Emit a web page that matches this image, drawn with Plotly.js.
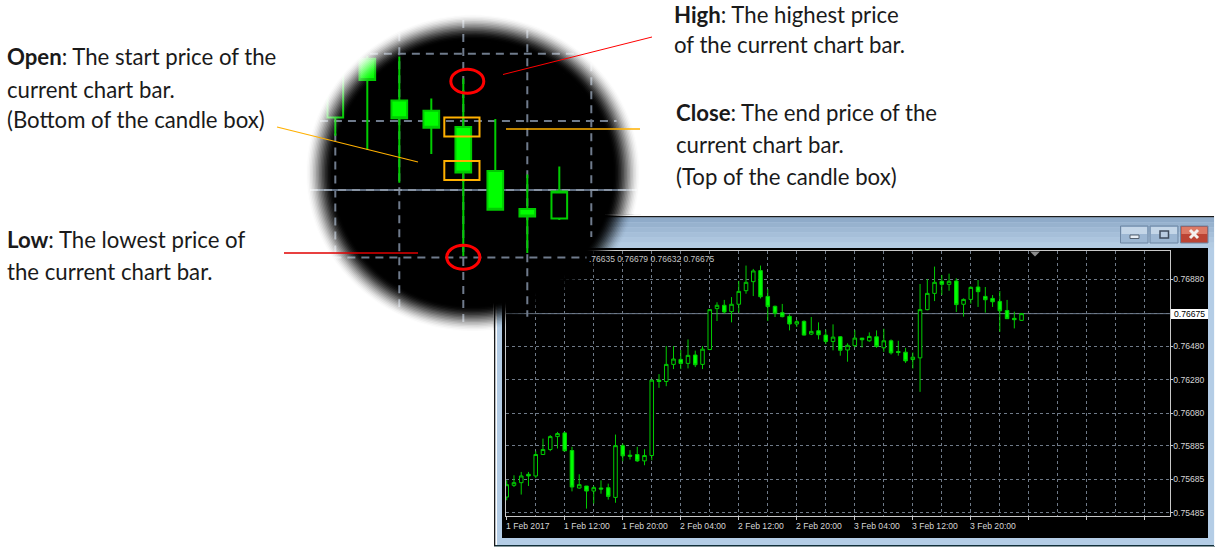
<!DOCTYPE html>
<html><head><meta charset="utf-8">
<script src="https://cdn.plot.ly/plotly-3.0.1.min.js"></script>
<style>html,body{margin:0;padding:0;background:#fff;overflow:hidden}#c{width:1215px;height:547px}</style>
</head><body><div id="c"></div>
<script>
// ---------- main H1 chart values (prices x 1e-5) ----------
const barIndex=[0,1,2,3,4,5,6,7,8,9,10,11,12,13,14,15,16,17,18,19,20,21,22,23,24,25,26,27,28,29,30,31,32,33,34,35,36,37,38,39,40,41,42,43,44,45,46,47,48,49,50,51,52,53,54,55,56,57,58,59,60,61,62,63,64,65,66,67,68,69,70,71];
const opens =[75580,75650,75666,75716,75706,75834,75864,75941,75963,75858,75634,75646,75616,75634,75636,75578,75887,75830,75834,75796,75828,76278,76270,76372,76402,76378,76428,76372,76461,76705,76725,76687,76731,76812,76866,76932,76778,76719,76681,76659,76613,76629,76553,76573,76547,76509,76537,76458,76484,76529,76513,76537,76471,76513,76449,76445,76401,76411,76699,76796,76868,76850,76870,76731,76760,76834,76778,76766,76748,76694,76647,76635];
const highs =[75680,75710,75730,75730,75854,75929,75950,75969,75969,75880,75716,75646,75646,75680,75660,75953,75899,75860,75880,75866,76278,76314,76481,76481,76458,76521,76454,76481,76699,76743,76757,76774,76870,76962,76942,76962,76822,76723,76733,76671,76637,76635,76655,76623,76579,76611,76541,76498,76577,76529,76563,76575,76585,76521,76513,76471,76443,76852,76882,76956,76906,76914,76886,76766,76838,76876,76834,76786,76810,76757,76687,76679];
const lows  =[75561,75640,75595,75646,75694,75832,75854,75870,75854,75614,75630,75511,75541,75600,75565,75546,75794,75804,75790,75770,75800,76232,76242,76344,76344,76348,76356,76344,76457,76631,76675,76623,76681,76794,76780,76766,76631,76655,76653,76575,76595,76545,76547,76521,76493,76456,76424,76388,76473,76473,76507,76471,76447,76431,76424,76381,76348,76208,76695,76750,76786,76812,76685,76657,76735,76715,76681,76715,76567,76643,76587,76632];
const closes=[75654,75666,75706,75706,75834,75864,75941,75959,75856,75640,75654,75616,75636,75628,75584,75887,75826,75824,75796,75828,76278,76270,76372,76404,76378,76426,76370,76463,76699,76725,76685,76731,76808,76862,76930,76776,76717,76677,76657,76613,76627,76547,76569,76549,76509,76535,76456,76486,76529,76519,76539,76479,76513,76441,76443,76393,76415,76699,76796,76862,76850,76868,76729,76760,76832,76806,76758,76746,76692,76645,76639,76675];
const xTickVals=[0,8,16,24,32,40,48,56,64];
const xTickText=["1 Feb 2017","1 Feb 12:00","1 Feb 20:00","2 Feb 04:00","2 Feb 12:00","2 Feb 20:00","3 Feb 04:00","3 Feb 12:00","3 Feb 20:00"];
const yTickVals=[0.7688,0.76675,0.7648,0.7628,0.7608,0.75885,0.75685,0.75485];
const yTickText=["0.76880","","0.76480","0.76280","0.76080","0.75885","0.75685","0.75485"];
const currentPrice=0.76675;
const currentLabel="0.76675";
const ohlcLabel=".76635 0.76679 0.76632 0.76675";
// ---------- magnified view values ----------
const magIndex=[0,1,2,3,4,5,6,7];
const magOpen =[76774,76854,76797,76783,76761,76701,76649,76636];
const magHigh =[76850,76858,76857,76800,76827,76772,76696,76707];
const magLow  =[76749,76730,76685,76724,76585,76648,76589,76634];
const magClose=[76846,76825,76773,76760,76699,76648,76639,76673];
const magVGrid=[0,2,4,6,8];
const magVTop =[76752,76889,76907,76893,76848];
const magVBot =[76579,76507,76489,76502,76611];
const magHGrid=[76861,76769,76675,76583];
const magHLeft=[1.08,-0.48,-0.79,-0.06];
const magHRight=[7.54,8.79,9.42,7.85];
// ---------- call-out texts ----------
const notes=[
 ["<b>Open</b>: The start price of the",8,57],["current chart bar.",8,89],["(Bottom of the candle box)",8,120],
 ["<b>Low</b>: The lowest price of",8,240],["the current chart bar.",8,271],
 ["<b>High</b>: The highest price",675,14],["of the current chart bar.",675,45],
 ["<b>Close</b>: The end price of the",677,113],["current chart bar.",677,144],["(Top of the candle box)",677,176]];

const W=1215,H=547;
const X=p=>p/W, Y=p=>1-p/H;
const px=(x0,y0,x1,y1,fill,extra)=>Object.assign({type:'rect',xref:'paper',yref:'paper',x0:X(x0),x1:X(x1),y0:Y(y0),y1:Y(y1),fillcolor:fill,line:{width:0},layer:'below'},extra||{});
const seg=(x0,y0,x1,y1,color,w)=>({type:'line',xref:'paper',yref:'paper',x0:X(x0),x1:X(x1),y0:Y(y0),y1:Y(y1),line:{color:color,width:w},layer:'above'});
const poly=(pts,fill,extra)=>Object.assign({type:'path',xref:'paper',yref:'paper',path:'M'+pts.map(p=>X(p[0]).toFixed(5)+','+Y(p[1]).toFixed(5)).join('L')+'Z',fillcolor:fill,line:{width:0},layer:'above'},extra||{});

const shapes=[];
// window chrome
shapes.push(px(494,216,1215,546,'#b4cde6'));
shapes.push(px(494,216,1214.5,217.5,'#1a1a1a'));
shapes.push(px(494,545,1215,546.5,'#12303a'));
shapes.push(px(494,216,495.5,546,'#1a1a1a'));
shapes.push(px(495.5,217.5,497,545,'#ffffff'));
shapes.push(px(1214,216,1215,546,'#f4f8fc'));
const bar=['#8fabc9','#97b2ce','#9fb9d4','#a6bfd9','#adc5de','#b3cbe2'];
bar.forEach((c,i)=>shapes.push(px(497,217.5+i*5,1214,222.5+i*5,c)));
shapes.push(px(502,248,1208,538,'#000000'));
// caption buttons
const btn=(a,b,f1,f2)=>{shapes.push(px(a,226,b,243,f2,{line:{color:'#6d86a3',width:1}}));shapes.push(px(a+1,227,b-1,234,f1));};
btn(1120.5,1148,'#c4d6e8','#9db7d3');btn(1150,1178,'#c4d6e8','#9db7d3');btn(1180.5,1208,'#dd7a66','#bc4434');
shapes.push(px(1130,235,1139,238.5,'#e8eef5',{line:{color:'#54606e',width:1}}));
shapes.push(px(1160,231,1168.5,238,'#b8cbe0',{line:{color:'#3e4b5c',width:1.5}}));
shapes.push(seg(1190,230,1198,238,'#f4f0ee',3));shapes.push(seg(1198,230,1190,238,'#f4f0ee',3));
// current price line in main chart
shapes.push({type:'line',xref:'paper',yref:'y',x0:X(506),x1:X(1170),y0:currentPrice,y1:currentPrice,line:{color:'#6d7c90',width:1},layer:'below'});
// current price tag and chart shift triangle
shapes.push(px(1171,309,1208,319,'#ffffff',{layer:'above'}));
shapes.push(poly([[1030,251.5],[1040,251.5],[1035,256.5]],'#8c8c8c'));

// magnifier
const cx=473,cy=173,sy=0.95;
const magX=p=>(p-335.3)/32, magY=p=>(76675+(190-p)/0.733)/1e5;
const polyMag=(pts,fill)=>({type:'path',xref:'x2',yref:'y2',path:'M'+pts.map(p=>magX(p[0]).toFixed(4)+','+magY(p[1]).toFixed(7)).join('L')+'Z',fillcolor:fill,line:{width:0},layer:'below'});
const circ=r=>{const o=[];for(let a=0;a<360;a+=4){const t=a*Math.PI/180;o.push([cx+r*Math.cos(t),cy+sy*r*Math.sin(t)]);}return o;};
const arc=(r)=>{const a0=Math.acos(20.5/r),a1=2*Math.PI+Math.asin(41.5/(sy*r)),o=[];for(let i=0;i<=100;i++){const t=a0+(a1-a0)*i/100;o.push([cx+r*Math.cos(t),cy+sy*r*Math.sin(t)]);}return o;};
const ring=(r1,r2)=>arc(r1).concat(arc(r2).reverse());
const R0=139,R1=167,ROut=240;
const white=r=>{const t=Math.min(1,Math.max(0,(r-R0)/(R1-R0)));return t*t*(3-2*t);};
shapes.push(polyMag(circ(R0),'#000000'));
shapes.push(polyMag(ring(R0-1,176),'#000000'));
let prevB=0;
for(let r=R1;r>=R0;r-=1.5){
  const T=1-white(r),a=(T-prevB)/(1-prevB);prevB=T;
  if(a>0.002)shapes.push(polyMag(circ(r).map(p=>[Math.max(p[0],493.5),Math.max(p[1],214.5)]),'rgba(0,0,0,'+a.toFixed(4)+')'));
}
const gridMag='#6f7b8c';
magVGrid.forEach((k,i)=>shapes.push({type:'line',xref:'x2',yref:'y2',x0:k,x1:k,y0:magVTop[i]/1e5,y1:magVBot[i]/1e5,line:{color:gridMag,width:2,dash:'8px,6px'},layer:'below'}));
magHGrid.forEach((v,i)=>{
  if(v===76675)shapes.push({type:'line',xref:'x2',yref:'y2',x0:magHLeft[i],x1:magHRight[i],y0:v/1e5,y1:v/1e5,line:{color:'#5f6d80',width:2},layer:'below'});
  shapes.push({type:'line',xref:'x2',yref:'y2',x0:magHLeft[i],x1:magHRight[i],y0:v/1e5,y1:v/1e5,line:{color:v===76675?'#8793a3':gridMag,width:2,dash:'8px,6px'},layer:'below'});
});
// soft edge on the white page
let prevW=0;
for(let r=R0;r<=R1;r+=1.5){
  const T=white(r),a=(T-prevW)/(1-prevW);prevW=T;
  if(a>0.002)shapes.push(poly(ring(r,ROut),'rgba(255,255,255,'+Math.min(1,a).toFixed(4)+')'));
}
shapes.push(poly(ring(R1,ROut),'#ffffff'));
// call-out lines
shapes.push(seg(503,74.5,652,37,'#ff0000',1));
shapes.push(seg(277,127,418,162,'#ffb000',1.2));
shapes.push(seg(506,129,640,129,'#ffb000',1.4));
shapes.push(seg(284,253,418,253,'#e00000',1.4));
const ell=(x,y)=>({type:'circle',xref:'paper',yref:'paper',x0:X(x-16.5),x1:X(x+16.5),y0:Y(y-12),y1:Y(y+12),line:{color:'#ff0000',width:3},fillcolor:'rgba(0,0,0,0)',layer:'above'});
shapes.push(ell(467.3,81.3));shapes.push(ell(463.3,257.3));
const box=(y0,y1)=>({type:'rect',xref:'paper',yref:'paper',x0:X(444.3),x1:X(479.5),y0:Y(y0),y1:Y(y1),line:{color:'#ffb000',width:2},fillcolor:'rgba(0,0,0,0)',layer:'above'});
shapes.push(box(117.5,136.5));shapes.push(box(161,180));

const ann=[];
notes.forEach(n=>ann.push({xref:'paper',yref:'paper',x:X(n[1]-3),y:Y(n[2]),xanchor:'left',yanchor:'middle',text:n[0],showarrow:false,font:{family:'Lato, Carlito, sans-serif',size:22.2,color:'#1a1a1a'}}));
const lab={family:'"Liberation Sans", Arial, sans-serif',size:8.6,color:'#d6d6d6'};
xTickVals.forEach((v,i)=>ann.push({xref:'x',yref:'paper',x:v,y:Y(526),xanchor:'left',yanchor:'middle',xshift:-3,text:xTickText[i],showarrow:false,font:lab}));
ann.push({xref:'paper',yref:'paper',x:X(1172),y:Y(314),xanchor:'left',yanchor:'middle',text:currentLabel,showarrow:false,font:{family:lab.family,size:8.6,color:'#000000'}});
ann.push({xref:'paper',yref:'paper',x:X(587),y:Y(259),xanchor:'left',yanchor:'middle',text:ohlcLabel,showarrow:false,font:{family:lab.family,size:8.5,color:'#c4c4c4'}});

const lineC='#00cc00';
const traces=[
 {type:'candlestick',x:barIndex,open:opens.map(v=>v/1e5),high:highs.map(v=>v/1e5),low:lows.map(v=>v/1e5),close:closes.map(v=>v/1e5),xaxis:'x',yaxis:'y',
  increasing:{line:{color:lineC,width:1},fillcolor:'#000000'},decreasing:{line:{color:lineC,width:1},fillcolor:'#00ff00'},hoverinfo:'skip',showlegend:false},
 {type:'candlestick',x:magIndex,open:magOpen.map(v=>v/1e5),high:magHigh.map(v=>v/1e5),low:magLow.map(v=>v/1e5),close:magClose.map(v=>v/1e5),xaxis:'x2',yaxis:'y2',
  increasing:{line:{color:lineC,width:2},fillcolor:'#000000'},decreasing:{line:{color:lineC,width:2},fillcolor:'#00ff00'},hoverinfo:'skip',showlegend:false}
];
const grid='#6f7a88';
const layout={
 width:W,height:H,margin:{l:0,r:0,t:0,b:0},paper_bgcolor:'#ffffff',plot_bgcolor:'rgba(0,0,0,0)',showlegend:false,
 xaxis:{domain:[X(506),X(1169.5)],range:[-0.1,91.4],tickmode:'linear',tick0:0,dtick:8,showticklabels:false,ticks:'outside',ticklen:3,tickcolor:'#c8c8c8',
   showgrid:true,gridcolor:grid,griddash:'3px,3px',gridwidth:1,minor:{tick0:0,dtick:4,showgrid:true,gridcolor:grid,griddash:'3px,3px',gridwidth:1,ticks:''},
   showline:true,mirror:true,linecolor:'#c8c8c8',linewidth:1,zeroline:false,rangeslider:{visible:false},anchor:'y',fixedrange:true},
 yaxis:{domain:[Y(516),Y(251)],range:[0.75467,0.77049],side:'right',tickmode:'array',tickvals:yTickVals,ticktext:yTickText,ticks:'outside',ticklen:2,tickcolor:'#c8c8c8',
   tickfont:lab,ticklabelstandoff:-1,showgrid:true,gridcolor:grid,griddash:'3px,3px',gridwidth:1,showline:true,mirror:true,linecolor:'#c8c8c8',linewidth:1,zeroline:false,anchor:'x',fixedrange:true},
 xaxis2:{domain:[X(305),X(641)],range:[-0.947,9.553],visible:false,rangeslider:{visible:false},anchor:'y2',fixedrange:true},
 yaxis2:{domain:[Y(341),Y(5)],range:[0.76469,0.769274],visible:false,anchor:'x2',fixedrange:true},
 shapes:shapes,annotations:ann
};
Plotly.newPlot('c',traces,layout,{displayModeBar:false,staticPlot:true});
</script></body></html>
